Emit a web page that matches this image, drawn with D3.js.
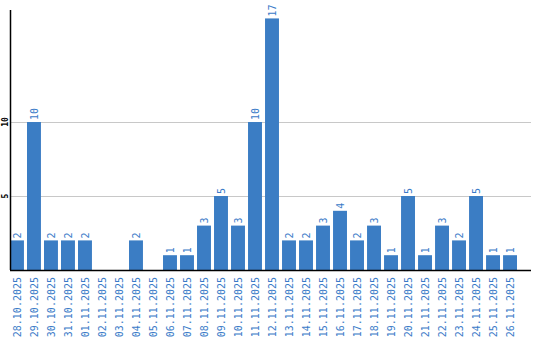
<!DOCTYPE html>
<html>
<head>
<meta charset="utf-8">
<script src="https://cdn.jsdelivr.net/npm/d3@7"></script>
<style>
  body { margin: 0; background: #fff; }
</style>
</head>
<body>
<div id="chart"></div>
<script>
const dates = [
  '28.10.2025', '29.10.2025', '30.10.2025', '31.10.2025', '01.11.2025',
  '02.11.2025', '03.11.2025', '04.11.2025', '05.11.2025', '06.11.2025',
  '07.11.2025', '08.11.2025', '09.11.2025', '10.11.2025', '11.11.2025',
  '12.11.2025', '13.11.2025', '14.11.2025', '15.11.2025', '16.11.2025',
  '17.11.2025', '18.11.2025', '19.11.2025', '20.11.2025', '21.11.2025',
  '22.11.2025', '23.11.2025', '24.11.2025', '25.11.2025', '26.11.2025'
];
const counts = [2, 10, 2, 2, 2, 0, 0, 2, 0, 1, 1, 3, 5, 3, 10, 17, 2, 2, 3, 4, 2, 3, 1, 5, 1, 3, 2, 5, 1, 1];
const yTicks = [5, 10];

const width = 540, height = 340;
const barColor = '#3b7dc4';
const textColor = '#3a7bc8';
const mono = '"DejaVu Sans Mono", monospace';

const svg = d3.select('#chart').append('svg')
  .attr('width', width)
  .attr('height', height);

const x = d3.scaleBand()
  .domain(dates)
  .range([10, 517])
  .paddingInner(0.18)
  .paddingOuter(0);

const y = d3.scaleLinear()
  .domain([0, 17.57])
  .range([270, 10]);

// gridlines
svg.append('g')
  .selectAll('line')
  .data(yTicks)
  .join('line')
    .attr('x1', 10)
    .attr('x2', 531)
    .attr('y1', d => Math.round(y(d)) + 0.5)
    .attr('y2', d => Math.round(y(d)) + 0.5)
    .attr('stroke', '#c8c8c8')
    .attr('stroke-width', 1);

// y tick labels (rotated)
svg.append('g')
  .selectAll('text')
  .data(yTicks)
  .join('text')
    .attr('transform', d => `translate(8,${y(d)}) rotate(-90)`)
    .attr('text-anchor', 'middle')
    .attr('font-family', mono)
    .attr('font-size', 8)
    .attr('font-weight', 'bold')
    .attr('fill', '#000')
    .text(d => d);

// bars
svg.append('g')
  .selectAll('rect')
  .data(counts)
  .join('rect')
    .attr('x', (d, i) => x(dates[i]))
    .attr('y', d => y(d))
    .attr('width', x.bandwidth())
    .attr('height', d => y(0) - y(d))
    .attr('fill', barColor);

// value labels
svg.append('g')
  .selectAll('text')
  .data(counts.map((v, i) => ({ v, d: dates[i] })).filter(o => o.v > 0))
  .join('text')
    .attr('transform', o => `translate(${x(o.d) + x.bandwidth() / 2 + 4},${y(o.v) - 2}) rotate(-90)`)
    .attr('text-anchor', 'start')
    .attr('font-family', mono)
    .attr('font-size', 10)
    .attr('fill', textColor)
    .text(o => o.v);

// axes lines
svg.append('line')
  .attr('x1', 10.5).attr('x2', 10.5)
  .attr('y1', 10).attr('y2', 270)
  .attr('stroke', '#000').attr('stroke-width', 1.5);
svg.append('line')
  .attr('x1', 10).attr('x2', 531)
  .attr('y1', 270.5).attr('y2', 270.5)
  .attr('stroke', '#000').attr('stroke-width', 1.5);

// date labels
svg.append('g')
  .selectAll('text')
  .data(dates)
  .join('text')
    .attr('transform', d => `translate(${x(d) + x.bandwidth() / 2 + 4},277) rotate(-90)`)
    .attr('text-anchor', 'end')
    .attr('font-family', mono)
    .attr('font-size', 10)
    .attr('fill', textColor)
    .text(d => d);
</script>
</body>
</html>
